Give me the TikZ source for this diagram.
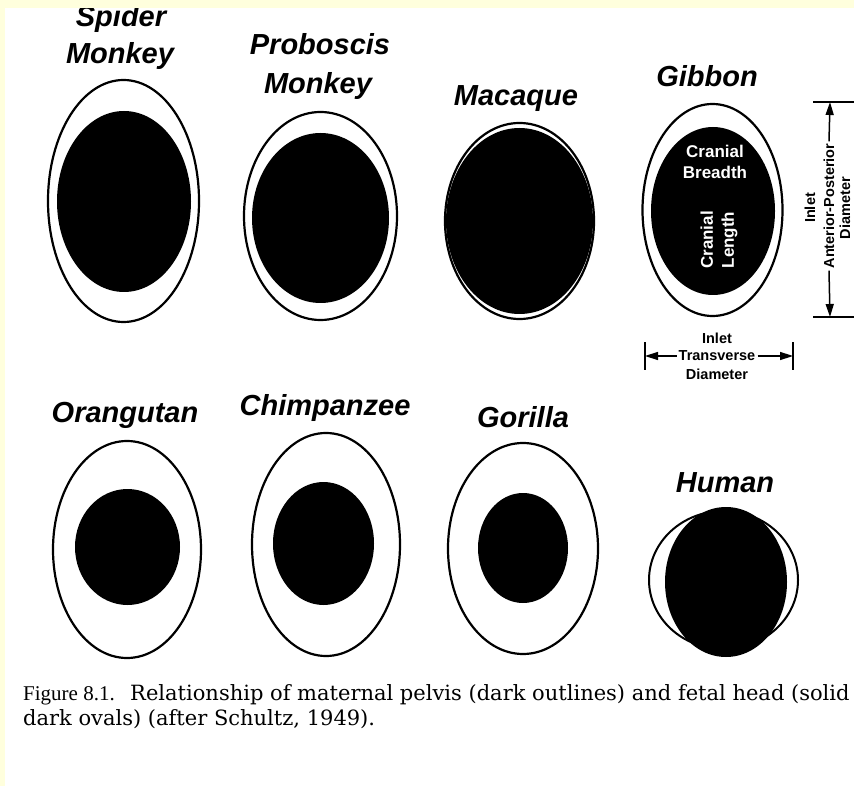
\documentclass[tikz,border=0pt]{standalone}
\usepackage{fontspec}
\newfontfamily\labfont{Liberation Sans}
\newfontfamily\capfont{DejaVu Serif}
\newfontfamily\figfont{Liberation Serif}
\usetikzlibrary{arrows.meta}
\definecolor{scanyellow}{RGB}{255,255,221}
\begin{document}
\begin{tikzpicture}[x=1pt,y=-1pt,
  pelvis/.style={draw=black,line width=2.2pt,fill=white},
  head/.style={fill=black},
  species/.style={font=\labfont\bfseries\itshape\fontsize{29}{34}\selectfont,anchor=base,inner sep=0pt},
  whitelab/.style={text=white,font=\labfont\bfseries\fontsize{17}{21}\selectfont,inner sep=0pt,align=center},
  dimlab/.style={font=\labfont\bfseries\fontsize{14.5}{18}\selectfont,inner sep=2pt},
  dimline/.style={line width=1.5pt},
  dimarrow/.style={line width=1.5pt,-{Triangle[length=13pt,width=8pt]}},
  captext/.style={anchor=base west,inner sep=0pt}
]
\useasboundingbox (0,0) rectangle (854,786);
\fill[white] (0,0) rectangle (854,786);

% ---- top row ----
\path[pelvis] (123.5,201) ellipse [x radius=75.5pt, y radius=121pt];
\path[head]   (124,201.5) ellipse [x radius=67pt, y radius=90.5pt];
\node[species] (spider1) at (121,27) {Spider};
\node[species] (spider2) at (120,64) {Monkey};

\path[pelvis] (320.5,216) ellipse [x radius=76.5pt, y radius=104pt];
\path[head]   (320.5,218) ellipse [x radius=68.5pt, y radius=85pt];
\node[species] (prob1) at (320,55) {Proboscis};
\node[species] (prob2) at (318,94) {Monkey};

\path[pelvis] (519.5,221) ellipse [x radius=74.5pt, y radius=98pt];
\path[head]   (519.5,221) ellipse [x radius=73.5pt, y radius=93pt];
\node[species] (macaque) at (516,106) {Macaque};

\path[pelvis] (712.5,210) ellipse [x radius=70pt, y radius=106pt];
\path[head]   (713,211) ellipse [x radius=62pt, y radius=84pt];
\node[species] (gibbon) at (707,87) {Gibbon};
\node[whitelab] (breadth) at (715,162) {Cranial\\Breadth};
\node[whitelab,rotate=90] (length) at (719,240) {Cranial\\Length};

% ---- dimension: anterior-posterior ----
\coordinate (apTop) at (830,102);
\coordinate (apBot) at (830,317);
\coordinate (apTopL) at (813,102);
\coordinate (apTopR) at (856,102);
\coordinate (apBotL) at (813,317);
\coordinate (apBotR) at (856,317);
\draw[dimline] (apTopL) -- (apTopR);
\draw[dimline] (apBotL) -- (apBotR);
\node[dimlab,rotate=90,inner sep=0pt] (apInlet) at (810,208) {Inlet};
\node[dimlab,rotate=90] (apMid) at (829,206) {Anterior-Posterior};
\node[dimlab,rotate=90,inner sep=0pt] (apDiam) at (845,208) {Diameter};
\draw[dimarrow] (apMid.east) -- (apTop);
\draw[dimarrow] (apMid.west) -- (apBot);

% ---- dimension: transverse ----
\coordinate (tvL) at (645,356);
\coordinate (tvR) at (793,356);
\coordinate (tvLt) at (645,342);
\coordinate (tvLb) at (645,370);
\coordinate (tvRt) at (793,342);
\coordinate (tvRb) at (793,370);
\draw[dimline] (tvLt) -- (tvLb);
\draw[dimline] (tvRt) -- (tvRb);
\node[dimlab] (tvInlet) at (717,338) {Inlet};
\node[dimlab] (tvMid) at (717,356) {Transverse};
\node[dimlab] (tvDiam) at (717,374) {Diameter};
\draw[dimarrow] (tvMid.west) -- (tvL);
\draw[dimarrow] (tvMid.east) -- (tvR);

% ---- bottom row ----
\path[pelvis] (127,549.5) ellipse [x radius=74pt, y radius=108.5pt];
\path[head]   (127.5,547) ellipse [x radius=52.5pt, y radius=58pt];
\node[species] (orang) at (125,422) {Orangutan};

\path[pelvis] (326,544.5) ellipse [x radius=74pt, y radius=111.5pt];
\path[head]   (323.5,543.5) ellipse [x radius=50.5pt, y radius=61.5pt];
\node[species] (chimp) at (325,415) {Chimpanzee};

\path[pelvis] (523,548.5) ellipse [x radius=75pt, y radius=105.5pt];
\path[head]   (523,548) ellipse [x radius=45pt, y radius=55pt];
\node[species] (gorilla) at (523,427) {Gorilla};

\path[pelvis,line width=2pt] (723.5,580) ellipse [x radius=74.5pt, y radius=69pt];
\path[head]   (726,582) ellipse [x radius=61pt, y radius=75pt];
\node[species] (human) at (725,492) {Human};

% ---- caption ----
\node[captext,font=\figfont\fontsize{21}{25}\selectfont] (figno) at (23,700) {Figure 8.1.};
\node[captext,font=\capfont\fontsize{21}{25}\selectfont] (cap1) at (130,700) {Relationship of maternal pelvis (dark outlines) and fetal head (solid};
\node[captext,font=\capfont\fontsize{21}{25}\selectfont] (cap2) at (23,725) {dark ovals) (after Schultz, 1949).};

% ---- scan border ----
\fill[scanyellow] (0,0) rectangle (854,8);
\fill[scanyellow] (0,0) rectangle (5,786);
\end{tikzpicture}
\end{document}
